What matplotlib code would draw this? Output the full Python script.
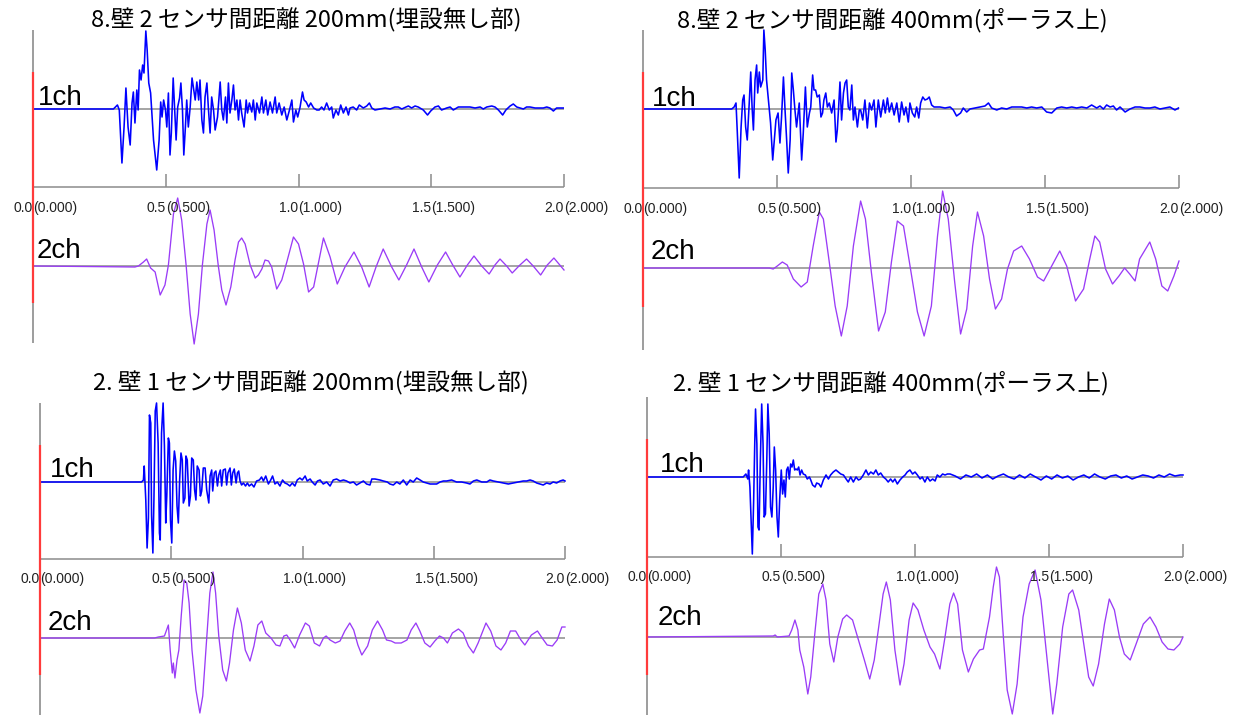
import numpy as np
import matplotlib.pyplot as plt

plt.rcParams['font.family'] = ['Noto Sans CJK JP', 'DejaVu Sans']

W, H = 1246, 715

# Panel titles
titles = ['8.壁 2 センサ間距離 200mm(埋設無し部)',
          '8.壁 2 センサ間距離 400mm(ポーラス上)',
          '2. 壁 1 センサ間距離 200mm(埋設無し部)',
          '2. 壁 1 センサ間距離 400mm(ポーラス上)']

tick_values = [0.0, 0.5, 1.0, 1.5, 2.0]
tick_main = ['0.0', '0.5', '1.0', '1.5', '2.0']
tick_sub = ['(0.000)', '(0.500)', '(1.000)', '(1.500)', '(2.000)']
channel_names = ['1ch', '2ch']

# Waveforms: (time, amplitude)
tl_ch1 = [(0, 0), (0.303, 0), (0.318, 4), (0.325, -1), (0.335, -54), (0.343, -18), (0.350, 21),
          (0.358, -18), (0.366, -36), (0.373, 6), (0.378, 17), (0.384, -14), (0.391, 19), (0.396, -1),
          (0.401, 39), (0.407, 29), (0.413, 44), (0.418, 36), (0.425, 78), (0.430, 59), (0.436, 26),
          (0.443, 16), (0.454, -31), (0.466, -61), (0.475, -31), (0.481, 7), (0.486, -8), (0.492, 9),
          (0.499, -1), (0.504, -18), (0.510, 16), (0.516, -46), (0.521, -24), (0.528, 31), (0.534, -4),
          (0.539, -31), (0.545, 2), (0.552, 11), (0.557, 26), (0.563, -1), (0.568, -46), (0.574, -18),
          (0.579, 9), (0.585, -18), (0.592, 2), (0.599, 31), (0.604, 22), (0.611, 9), (0.617, 27),
          (0.624, 9), (0.629, 29), (0.636, -11), (0.642, -24), (0.648, 12), (0.655, 26), (0.661, -1),
          (0.667, -24), (0.673, 12), (0.680, -1), (0.686, -21), (0.695, -8), (0.705, 27), (0.711, -1),
          (0.717, -11), (0.725, 12), (0.730, -14), (0.736, 26), (0.742, -4), (0.749, 9), (0.755, 24),
          (0.761, -1), (0.768, 9), (0.774, -11), (0.780, 9), (0.786, -4), (0.795, -18), (0.803, 9),
          (0.808, -4), (0.815, 6), (0.824, -3), (0.830, 9), (0.837, -11), (0.843, 6), (0.853, -4),
          (0.862, 12), (0.868, -4), (0.877, 9), (0.884, -6), (0.893, 7), (0.902, -4), (0.912, 12),
          (0.918, -4), (0.927, 6), (0.937, -6), (0.946, 2), (0.956, -11), (0.966, -1), (0.975, 9),
          (0.981, -13), (0.990, -1), (0.997, -8), (1.006, 2), (1.015, 17), (1.021, 9), (1.029, 7),
          (1.038, 2), (1.046, 6), (1.057, 1), (1.069, -1), (1.078, -1), (1.087, 2), (1.096, -1),
          (1.106, 6), (1.116, -1), (1.125, 2), (1.131, -9), (1.141, -1), (1.150, -6), (1.159, 4),
          (1.169, -4), (1.179, 2), (1.188, -6), (1.194, 1), (1.206, 2), (1.219, -1), (1.229, 4),
          (1.244, 1), (1.257, 3), (1.267, 6), (1.276, 1), (1.288, -1), (1.307, 0), (1.326, 1),
          (1.345, 0), (1.363, 2), (1.376, 2), (1.389, 0), (1.405, 2), (1.414, 3), (1.426, 1),
          (1.439, 3), (1.451, 2), (1.470, -1), (1.486, -6), (1.498, -2), (1.514, 2), (1.527, 3),
          (1.539, -1), (1.558, 1), (1.571, 2), (1.583, -1), (1.602, 2), (1.627, 2), (1.646, 2),
          (1.665, 1), (1.684, 2), (1.696, 0), (1.709, 2), (1.728, 3), (1.740, 2), (1.753, -1),
          (1.769, -6), (1.781, -1), (1.797, 3), (1.809, 5), (1.822, 2), (1.834, 1), (1.847, 0),
          (1.859, 2), (1.872, 2), (1.891, 1), (1.903, 1), (1.922, 1), (1.935, 2), (1.947, 1),
          (1.960, -2), (1.972, 1), (1.997, 1)]

tl_ch2 = [(0, 0), (0.384, -1), (0.397, 0), (0.416, 4), (0.428, 7), (0.443, -2), (0.460, -6),
          (0.479, -29), (0.497, -19), (0.510, 1), (0.529, 52), (0.545, 68), (0.560, 46), (0.577, 0),
          (0.592, -48), (0.607, -78), (0.623, -48), (0.638, 1), (0.655, 42), (0.667, 56), (0.682, 36),
          (0.698, 0), (0.711, -24), (0.727, -39), (0.745, -21), (0.761, 6), (0.774, 24), (0.786, 28),
          (0.799, 22), (0.818, 1), (0.837, -12), (0.849, -9), (0.862, -3), (0.874, 6), (0.887, 5),
          (0.899, -1), (0.918, -23), (0.937, -14), (0.956, 4), (0.981, 29), (1.000, 22), (1.019, 2),
          (1.038, -26), (1.057, -21), (1.094, 28), (1.119, 9), (1.146, -18), (1.175, -1), (1.209, 14),
          (1.238, -1), (1.266, -21), (1.292, -1), (1.319, 17), (1.351, -1), (1.378, -14), (1.407, 1),
          (1.435, 17), (1.464, -1), (1.491, -16), (1.523, 1), (1.554, 14), (1.581, 1), (1.608, -11),
          (1.636, 1), (1.661, 10), (1.690, 0), (1.718, -8), (1.740, 1), (1.759, 7), (1.784, 0),
          (1.805, -7), (1.834, 1), (1.859, 7), (1.884, 0), (1.912, -9), (1.937, 1), (1.962, 8),
          (2.000, -4)]

tr_ch1 = [(0, 0), (0.331, 0), (0.340, 2), (0.347, 6), (0.352, -24), (0.359, -69), (0.366, -18),
          (0.372, 9), (0.377, 14), (0.383, -18), (0.389, -31), (0.397, 9), (0.402, 37), (0.407, 2),
          (0.412, -21), (0.418, 29), (0.424, 44), (0.428, 16), (0.434, 37), (0.439, 22), (0.447, 29),
          (0.451, 79), (0.456, 59), (0.461, 29), (0.468, 9), (0.476, -14), (0.484, -51), (0.490, -31),
          (0.496, -11), (0.504, -4), (0.511, -34), (0.517, -8), (0.524, 32), (0.530, -1), (0.536, -31),
          (0.542, -64), (0.549, -31), (0.555, 36), (0.561, 19), (0.567, -1), (0.573, -18), (0.583, 6),
          (0.592, -51), (0.598, -24), (0.606, 22), (0.613, -18), (0.621, -4), (0.626, 2), (0.633, 34),
          (0.638, 19), (0.644, 19), (0.650, 12), (0.658, 14), (0.664, -8), (0.670, -4), (0.675, 9),
          (0.682, 16), (0.688, 2), (0.695, 6), (0.704, -4), (0.713, 9), (0.720, -33), (0.725, -21),
          (0.730, 2), (0.735, 27), (0.741, -11), (0.748, 16), (0.754, 26), (0.760, 29), (0.766, 2),
          (0.772, -1), (0.779, 24), (0.785, -11), (0.791, 2), (0.800, -18), (0.807, -1), (0.812, -1),
          (0.820, -11), (0.828, 9), (0.837, -19), (0.845, 6), (0.853, -1), (0.862, 9), (0.869, -18),
          (0.878, 9), (0.887, -8), (0.897, 9), (0.904, -4), (0.912, 11), (0.919, -3), (0.928, 6),
          (0.937, -6), (0.947, 6), (0.956, -13), (0.965, 7), (0.974, -6), (0.981, 2), (0.990, -13),
          (0.996, 6), (1.005, -4), (1.014, -8), (1.021, 2), (1.029, -9), (1.036, 6), (1.044, 12),
          (1.052, 9), (1.061, 10), (1.068, 12), (1.077, 4), (1.086, 2), (1.096, 2), (1.108, 2),
          (1.127, 1), (1.146, 2), (1.158, -1), (1.170, -7), (1.185, -4), (1.195, 1), (1.208, -3),
          (1.220, 0), (1.239, 1), (1.257, 2), (1.276, 3), (1.289, 6), (1.301, 1), (1.320, -1),
          (1.338, 1), (1.357, 0), (1.376, 2), (1.394, 2), (1.413, 2), (1.432, 1), (1.450, 2),
          (1.469, 1), (1.488, 2), (1.506, -3), (1.525, -4), (1.544, 1), (1.562, 2), (1.581, 1),
          (1.600, 2), (1.618, 1), (1.637, 2), (1.656, 1), (1.674, 4), (1.693, 1), (1.705, 3),
          (1.718, 0), (1.730, 4), (1.743, 2), (1.755, 3), (1.767, -1), (1.780, 2), (1.799, -3),
          (1.817, 0), (1.836, 2), (1.854, 2), (1.873, 1), (1.892, 1), (1.910, 2), (1.929, 0),
          (1.948, 1), (1.966, 2), (1.985, -1), (1.998, 1)]

tr_ch2 = [(0, 0), (0.471, 0), (0.486, -1), (0.501, 2), (0.520, 6), (0.538, 3), (0.561, -11),
          (0.590, -19), (0.613, -14), (0.635, 22), (0.658, 56), (0.673, 49), (0.695, 6), (0.717, -38),
          (0.740, -68), (0.762, -38), (0.785, 22), (0.812, 67), (0.830, 49), (0.852, -4), (0.879, -63),
          (0.904, -44), (0.927, 6), (0.949, 47), (0.972, 42), (0.994, 6), (1.024, -44), (1.049, -68),
          (1.076, -38), (1.099, 32), (1.118, 77), (1.139, 49), (1.163, -14), (1.185, -66), (1.208, -41),
          (1.230, 22), (1.248, 56), (1.271, 32), (1.293, -11), (1.315, -41), (1.338, -31), (1.360, -1),
          (1.383, 17), (1.413, 22), (1.442, 9), (1.472, -9), (1.495, -13), (1.525, 2), (1.555, 17),
          (1.581, 2), (1.614, -33), (1.644, -21), (1.667, 9), (1.686, 32), (1.704, 26), (1.726, -1),
          (1.752, -16), (1.776, -8), (1.797, 0), (1.816, -6), (1.836, -13), (1.853, 9), (1.891, 26),
          (1.913, 9), (1.936, -18), (1.958, -23), (1.981, -8), (2.000, 7)]

bl_ch1 = [(0, 0), (0.387, 0), (0.394, 2), (0.397, 16), (0.403, -18), (0.408, -66), (0.413, -36),
          (0.417, 67), (0.422, 59), (0.425, -33), (0.430, -71), (0.434, -18), (0.439, 71), (0.444, 79),
          (0.450, 39), (0.455, -51), (0.458, -58), (0.463, 49), (0.469, 79), (0.474, 36), (0.479, -41),
          (0.483, -14), (0.489, 44), (0.493, 39), (0.497, -38), (0.502, -61), (0.507, 12), (0.512, 31),
          (0.517, 21), (0.522, -24), (0.527, -41), (0.532, 2), (0.537, 29), (0.542, 22), (0.546, -21),
          (0.552, -16), (0.556, 26), (0.561, 22), (0.568, -24), (0.573, -14), (0.578, 24), (0.584, 22),
          (0.589, -8), (0.594, -18), (0.599, 16), (0.606, 12), (0.611, -14), (0.616, -9), (0.622, 14),
          (0.629, 14), (0.635, -8), (0.643, -21), (0.648, 6), (0.654, 12), (0.658, -9), (0.664, 9),
          (0.670, 11), (0.676, -4), (0.681, 7), (0.687, 12), (0.692, -4), (0.698, 12), (0.706, 13),
          (0.711, -3), (0.716, 9), (0.724, 14), (0.729, -3), (0.734, 9), (0.740, 13), (0.747, -1),
          (0.752, 9), (0.757, 11), (0.762, 1), (0.768, -3), (0.775, -1), (0.783, -4), (0.790, -1),
          (0.797, -4), (0.806, -2), (0.815, -5), (0.825, 1), (0.836, 2), (0.844, 5), (0.851, 1),
          (0.860, 6), (0.870, -2), (0.879, 2), (0.886, 6), (0.895, -2), (0.904, 0), (0.914, -4),
          (0.924, 2), (0.933, -1), (0.942, -2), (0.952, -4), (0.961, -1), (0.971, -4), (0.980, 2),
          (0.990, 4), (0.999, 2), (1.010, 6), (1.018, 1), (1.029, 3), (1.037, 0), (1.048, -3),
          (1.057, 1), (1.067, 2), (1.079, -2), (1.092, 0), (1.105, -4), (1.117, 2), (1.130, 3),
          (1.143, 1), (1.156, 2), (1.168, 1), (1.181, -1), (1.194, 0), (1.206, -3), (1.219, -1),
          (1.232, 1), (1.244, -2), (1.257, -3), (1.264, 3), (1.276, 3), (1.295, 2), (1.308, 1),
          (1.323, 0), (1.333, -2), (1.346, -3), (1.359, 0), (1.371, -2), (1.384, 2), (1.397, -3),
          (1.410, 2), (1.422, 0), (1.435, 4), (1.448, 2), (1.460, 0), (1.473, -1), (1.486, -2),
          (1.498, -2), (1.511, -2), (1.524, 0), (1.537, 1), (1.549, 1), (1.568, 2), (1.587, 0),
          (1.606, 0), (1.625, -1), (1.638, -2), (1.651, 1), (1.664, 2), (1.683, 0), (1.702, 0),
          (1.714, 2), (1.727, 1), (1.746, 0), (1.765, -1), (1.784, -2), (1.803, -1), (1.822, 0),
          (1.841, 1), (1.854, 1), (1.867, 2), (1.879, 1), (1.892, -1), (1.905, -2), (1.917, -3),
          (1.930, -1), (1.943, -2), (1.955, 0), (1.968, -1), (1.981, 1), (1.993, 2), (2.000, 1)]

bl_ch2 = [(0, 0), (0.436, 0), (0.451, 1), (0.474, 2), (0.489, 13), (0.496, -12), (0.504, -35),
          (0.508, -25), (0.514, -40), (0.522, -22), (0.529, -12), (0.538, 22), (0.549, 58), (0.559, 55),
          (0.568, 35), (0.579, -12), (0.594, -52), (0.609, -75), (0.620, -58), (0.632, -12), (0.647, 45),
          (0.659, 66), (0.669, 45), (0.681, 2), (0.696, -32), (0.710, -43), (0.722, -25), (0.737, 8),
          (0.752, 30), (0.767, 15), (0.782, -12), (0.800, -23), (0.815, -8), (0.830, 13), (0.845, 17),
          (0.860, 5), (0.880, 0), (0.899, -7), (0.914, -8), (0.929, 2), (0.940, 3), (0.955, -3),
          (0.970, -10), (0.989, 3), (1.011, 15), (1.026, 12), (1.045, -5), (1.065, -8), (1.080, 0),
          (1.090, 2), (1.105, -2), (1.125, -5), (1.143, -3), (1.161, 7), (1.180, 15), (1.195, 8),
          (1.211, -7), (1.226, -17), (1.248, -8), (1.266, 8), (1.286, 17), (1.305, 8), (1.320, -2),
          (1.338, -3), (1.353, -5), (1.376, -5), (1.398, -2), (1.414, 8), (1.432, 15), (1.447, 7),
          (1.466, -5), (1.486, -9), (1.504, -3), (1.522, 2), (1.537, 0), (1.552, -5), (1.571, 5),
          (1.594, 9), (1.612, 5), (1.632, -8), (1.651, -15), (1.669, -5), (1.684, 5), (1.699, 15),
          (1.717, 7), (1.737, -8), (1.756, -12), (1.774, -5), (1.792, 7), (1.812, 7), (1.832, -2),
          (1.847, -7), (1.872, 3), (1.895, 7), (1.913, 0), (1.932, -7), (1.952, -8), (1.970, -2),
          (1.988, 11), (2.000, 11)]

br_ch1 = [(0, 0), (0.359, 0), (0.369, 3), (0.376, -2), (0.379, 7), (0.384, -10), (0.388, -40),
          (0.393, -77), (0.398, -23), (0.402, 33), (0.405, 68), (0.410, 33), (0.414, -50), (0.418, -53),
          (0.423, 17), (0.428, 73), (0.433, 33), (0.437, -40), (0.442, -37), (0.447, 17), (0.451, 73),
          (0.456, 43), (0.461, -30), (0.466, -40), (0.471, -10), (0.475, 30), (0.480, 7), (0.485, -40),
          (0.490, -60), (0.495, -23), (0.501, 7), (0.506, -17), (0.511, -3), (0.516, -20), (0.521, 7),
          (0.526, 10), (0.531, -2), (0.536, 13), (0.541, 10), (0.546, 17), (0.551, 7), (0.556, 8),
          (0.561, 7), (0.566, 10), (0.571, 2), (0.577, 7), (0.583, 3), (0.591, 2), (0.598, -2),
          (0.606, 0), (0.611, -3), (0.618, -8), (0.627, -10), (0.633, -6), (0.642, -7), (0.649, -10),
          (0.658, -3), (0.668, 2), (0.677, -2), (0.685, 2), (0.695, 5), (0.705, 7), (0.714, 5),
          (0.723, 3), (0.733, 2), (0.743, -2), (0.751, -5), (0.760, 0), (0.770, -5), (0.780, 0),
          (0.789, -3), (0.797, -2), (0.807, 2), (0.817, 7), (0.826, 2), (0.835, 5), (0.845, 3),
          (0.854, 7), (0.863, 2), (0.872, 4), (0.882, 0), (0.891, -2), (0.900, -5), (0.909, -2),
          (0.917, -5), (0.925, -2), (0.934, -7), (0.944, -3), (0.954, 0), (0.963, 2), (0.971, 5),
          (0.981, 7), (0.991, 3), (1.000, 5), (1.009, 2), (1.019, -2), (1.027, 0), (1.037, -5),
          (1.046, 0), (1.056, -4), (1.066, -2), (1.075, -4), (1.083, 2), (1.093, 0), (1.103, 3),
          (1.112, 2), (1.121, 3), (1.131, 3), (1.150, 1), (1.170, -2), (1.190, 2), (1.210, 0),
          (1.230, 3), (1.250, -1), (1.270, 2), (1.290, -2), (1.310, 1), (1.330, 3), (1.350, 0),
          (1.370, -2), (1.390, 2), (1.410, -1), (1.430, 3), (1.450, 0), (1.470, -3), (1.490, 1),
          (1.510, -2), (1.530, 2), (1.550, -1), (1.570, 1), (1.590, -3), (1.610, 0), (1.630, 2),
          (1.650, -1), (1.670, 3), (1.690, 0), (1.710, -2), (1.730, 1), (1.750, 2), (1.770, -1),
          (1.790, 1), (1.810, -2), (1.830, 0), (1.850, 2), (1.870, 1), (1.890, -1), (1.910, 2),
          (1.930, 0), (1.950, 3), (1.970, 1), (1.990, 2), (2.000, 2)]

br_ch2 = [(0, 0), (0.471, 1), (0.478, 2), (0.486, 0), (0.530, 1), (0.540, 7), (0.552, 17),
          (0.563, 7), (0.570, -13), (0.585, -30), (0.600, -57), (0.611, -40), (0.626, 3), (0.641, 43),
          (0.656, 53), (0.668, 37), (0.682, -7), (0.697, -25), (0.712, 0), (0.730, 18), (0.745, 22),
          (0.767, 17), (0.789, -3), (0.811, -23), (0.831, -42), (0.848, -23), (0.866, 13), (0.881, 43),
          (0.893, 55), (0.908, 37), (0.925, -13), (0.944, -48), (0.959, -27), (0.978, 17), (0.993, 34),
          (1.011, 27), (1.033, 7), (1.056, -10), (1.073, -17), (1.093, -32), (1.112, 0), (1.130, 33),
          (1.144, 44), (1.159, 33), (1.177, -13), (1.199, -35), (1.218, -22), (1.241, -13), (1.255, -12),
          (1.278, 20), (1.292, 50), (1.304, 70), (1.315, 60), (1.329, 3), (1.344, -53), (1.363, -77),
          (1.381, -47), (1.403, 20), (1.426, 53), (1.448, 67), (1.470, 37), (1.492, -20), (1.514, -77),
          (1.529, -47), (1.551, 10), (1.574, 43), (1.588, 47), (1.611, 27), (1.633, -13), (1.648, -40),
          (1.665, -49), (1.685, -27), (1.707, 13), (1.725, 38), (1.744, 27), (1.763, 0), (1.781, -17),
          (1.803, -23), (1.825, -7), (1.852, 13), (1.877, 20), (1.899, 10), (1.922, -5), (1.944, -12),
          (1.966, -13), (1.988, -7), (2.000, 0)]

# layout of each panel in pixels
panels = [
    dict(ch1=tl_ch1, ch2=tl_ch2, x0=33, x2=564, top=0, bot=357, title=(306, 20),
         base1=109, axis=187, lab=208, base2=266, gray=(30, 343), red=(72, 303),
         name1=(38, 98), name2=(37, 251)),
    dict(ch1=tr_ch1, ch2=tr_ch2, x0=643, x2=1179, top=0, bot=357, title=(892, 20),
         base1=109, axis=188, lab=209, base2=268, gray=(30, 350), red=(72, 307),
         name1=(652, 99), name2=(651, 252)),
    dict(ch1=bl_ch1, ch2=bl_ch2, x0=40, x2=565, top=357, bot=715, title=(311, 383),
         base1=482, axis=559, lab=579, base2=638, gray=(403, 715), red=(445, 675),
         name1=(50, 470), name2=(48, 623)),
    dict(ch1=br_ch1, ch2=br_ch2, x0=647, x2=1183, top=357, bot=715, title=(891, 383),
         base1=477, axis=557, lab=577, base2=637, gray=(397, 715), red=(439, 675),
         name1=(660, 465), name2=(658, 618)),
]

fig = plt.figure(figsize=(W / 100, H / 100), dpi=100)

for i, p in enumerate(panels):
    ax = fig.add_axes([p['x0'] / W, 1 - p['bot'] / H, (p['x2'] - p['x0']) / W, (p['bot'] - p['top']) / H])
    ax.set_xlim(0, 2)
    ax.set_ylim(p['bot'], p['top'])
    ax.axis('off')

    # frame lines
    ax.vlines(0, p['gray'][0], p['gray'][1], color='#8c8c8c', lw=1.2, clip_on=False)
    ax.hlines([p['base1'], p['axis'], p['base2']], 0, 2, color='#8c8c8c', lw=1.1, clip_on=False)
    ax.vlines(tick_values[1:], p['axis'] - 13, p['axis'], color='#8c8c8c', lw=1.1, clip_on=False)

    t1, v1 = np.array(p['ch1'], dtype=float).T
    t2, v2 = np.array(p['ch2'], dtype=float).T
    ax.plot(t1, p['base1'] - v1, color='#0000ff', lw=1.15, clip_on=False)
    ax.plot(t2, p['base2'] - v2, color='#9a3cf7', lw=0.95, clip_on=False)

    ax.vlines(0, p['red'][0], p['red'][1], color='#ff3b3b', lw=1.6, clip_on=False)

    for tv, m, s in zip(tick_values, tick_main, tick_sub):
        ax.text(tv, p['lab'], m, ha='right', va='center', fontsize=10, color='#222222',
                family=['Liberation Sans', 'DejaVu Sans'])
        ax.text(tv, p['lab'], s, ha='left', va='center', fontsize=10, color='#222222',
                family=['Liberation Sans', 'DejaVu Sans'])

    for nm, pos in zip(channel_names, [p['name1'], p['name2']]):
        fig.text(pos[0] / W, 1 - pos[1] / H, nm, ha='left', va='center', fontsize=20,
                 family=['Liberation Sans', 'DejaVu Sans'])

    fig.text(p['title'][0] / W, 1 - p['title'][1] / H, titles[i], ha='center', va='center',
             fontsize=17)

fig.savefig('out.png', dpi=100, facecolor='white')
